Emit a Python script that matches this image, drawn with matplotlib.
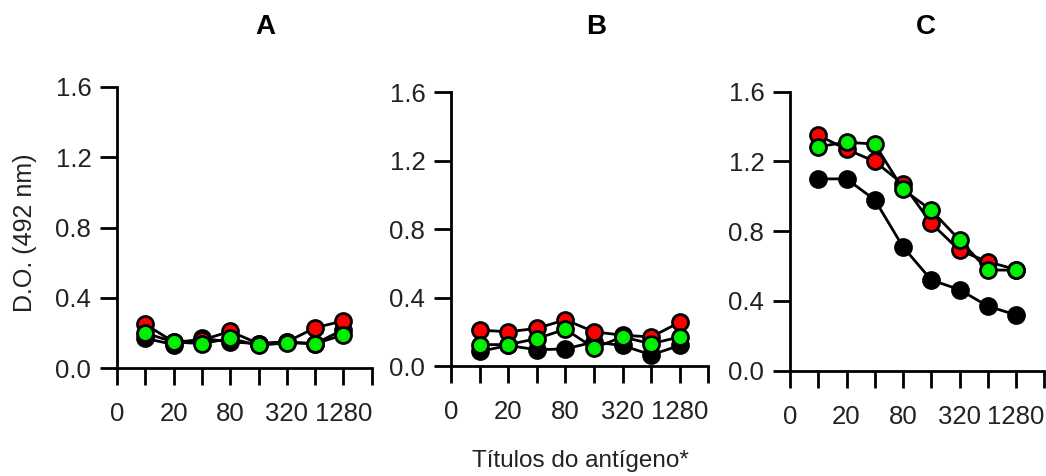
import numpy as np
import matplotlib
matplotlib.use("Agg")
import matplotlib.pyplot as plt

plt.rcParams['font.family'] = ['Liberation Sans', 'DejaVu Sans']

# Antigen titres (serial dilutions) and the x tick labels shown
titers = [10, 20, 40, 80, 160, 320, 640, 1280]
tick_labels = ['0', '', '20', '', '80', '', '320', '', '1280', '']
y_ticks = [0.0, 0.4, 0.8, 1.2, 1.6]

panel_titles = ['A', 'B', 'C']

# Optical density (492 nm) per panel and serum group
black_A = [0.17, 0.135, 0.17, 0.15, 0.14, 0.15, 0.14, 0.22]
red_A = [0.25, 0.15, 0.16, 0.21, 0.14, 0.15, 0.23, 0.27]
green_A = [0.20, 0.15, 0.14, 0.17, 0.13, 0.145, 0.14, 0.19]

black_B = [0.085, 0.12, 0.095, 0.10, 0.14, 0.12, 0.065, 0.12]
red_B = [0.21, 0.20, 0.22, 0.27, 0.20, 0.18, 0.17, 0.255]
green_B = [0.125, 0.125, 0.16, 0.215, 0.105, 0.17, 0.13, 0.17]

black_C = [1.10, 1.10, 0.98, 0.71, 0.52, 0.465, 0.37, 0.32]
red_C = [1.35, 1.27, 1.20, 1.07, 0.845, 0.69, 0.625, 0.58]
green_C = [1.285, 1.31, 1.30, 1.04, 0.92, 0.75, 0.577, 0.577]

panels = [
    (black_A, red_A, green_A),
    (black_B, red_B, green_B),
    (black_C, red_C, green_C),
]

W, H = 1046, 476
fig = plt.figure(figsize=(W / 100, H / 100), dpi=100)

# axes boxes in pixels: left, bottom (y of zero line), right, top
boxes = [
    (117, 368.3, 371.7, 86.7),
    (451, 366.0, 708.3, 92.3),
    (790, 370.7, 1044.3, 91.7),
]
title_x = [265.7, 596, 926]

series_colors = ['black', '#ff0000', '#00ee00']
x = np.arange(1, len(titers) + 1)

for i, (box, data) in enumerate(zip(boxes, panels)):
    l, b, r, t = box
    ax = fig.add_axes([l / W, (H - b) / H, (r - l) / W, (b - t) / H])
    for vals, col in zip(data, series_colors):
        ax.plot(x, vals, color='black', lw=2.0, marker='o', ms=11.5,
                markerfacecolor=col, markeredgecolor='black', mew=2.0,
                clip_on=False, zorder=3)
    ax.set_xlim(0, len(titers) + 1)
    ax.set_ylim(0, 1.6)
    ax.set_xticks(np.arange(0, len(tick_labels)))
    ax.set_xticklabels(tick_labels)
    ax.set_yticks(y_ticks)
    ax.set_yticklabels([f'{v:.1f}' for v in y_ticks])
    for s in ['top', 'right']:
        ax.spines[s].set_visible(False)
    for s in ['left', 'bottom']:
        ax.spines[s].set_linewidth(2.0)
    ax.tick_params(axis='both', direction='out', length=12.5, width=2.0,
                   labelsize=18.5, colors='black', labelcolor='#222222')
    ax.tick_params(axis='x', pad=12)
    ax.tick_params(axis='y', pad=6)
    fig.text(title_x[i] / W, 1 - 27 / H, panel_titles[i], ha='center',
             va='center', fontsize=20, fontweight='bold')

fig.text(25 / W, 1 - 233 / H, 'D.O. (492 nm)', rotation=90, ha='center',
         va='center', fontsize=18, color='#222222')
fig.text(580 / W, 1 - 461 / H, 'Títulos do antígeno*', ha='center',
         va='center', fontsize=17.5, color='#222222')

fig.savefig('out.png', dpi=100, facecolor='white')
